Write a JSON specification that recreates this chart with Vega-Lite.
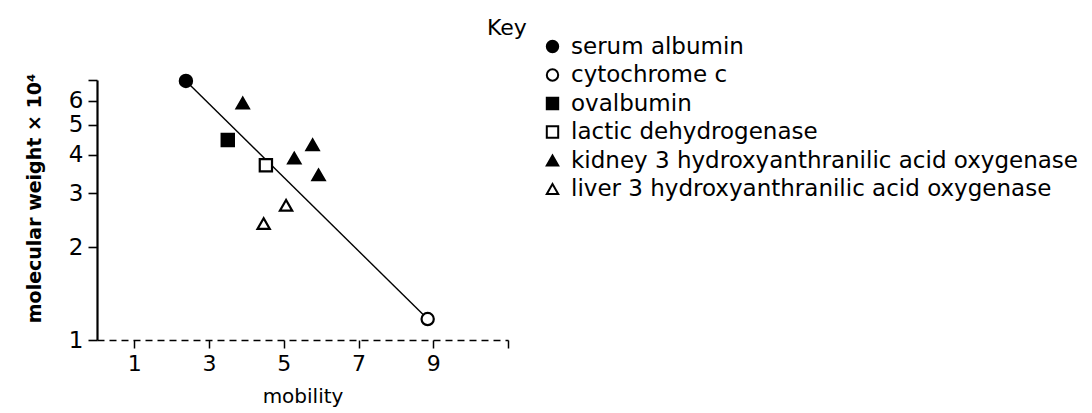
{
  "$schema": "https://vega.github.io/schema/vega-lite/v6.json",
  "autosize": "none",
  "width": 411,
  "height": 260,
  "padding": {"left": 97, "top": 80, "right": 584, "bottom": 73},
  "background": "white",
  "config": {
    "view": {"stroke": null},
    "axis": {"grid": false, "domainColor": "black", "tickColor": "black", "labelColor": "black", "titleColor": "black", "labelFont": "DejaVu Sans", "titleFont": "DejaVu Sans"},
    "legend": {"labelFont": "DejaVu Sans", "titleFont": "DejaVu Sans", "labelColor": "black", "titleColor": "black"}
  },
  "datasets": {
    "proteins": [
      {"protein": "serum albumin", "mobility": 2.38, "mw": 6.95},
      {"protein": "cytochrome c", "mobility": 8.85, "mw": 1.17},
      {"protein": "ovalbumin", "mobility": 3.5, "mw": 4.47},
      {"protein": "lactic dehydrogenase", "mobility": 4.52, "mw": 3.7},
      {"protein": "kidney 3 hydroxyanthranilic acid oxygenase", "mobility": 3.9, "mw": 5.89},
      {"protein": "kidney 3 hydroxyanthranilic acid oxygenase", "mobility": 5.28, "mw": 3.9},
      {"protein": "kidney 3 hydroxyanthranilic acid oxygenase", "mobility": 5.77, "mw": 4.31},
      {"protein": "kidney 3 hydroxyanthranilic acid oxygenase", "mobility": 5.93, "mw": 3.44},
      {"protein": "liver 3 hydroxyanthranilic acid oxygenase", "mobility": 4.46, "mw": 2.39},
      {"protein": "liver 3 hydroxyanthranilic acid oxygenase", "mobility": 5.06, "mw": 2.74}
    ],
    "fit": [
      {"mobility": 2.38, "mw": 6.95},
      {"mobility": 8.85, "mw": 1.17}
    ]
  },
  "layer": [
    {
      "data": {"name": "fit"},
      "mark": {"type": "line", "color": "black", "strokeWidth": 1.4},
      "encoding": {
        "x": {"field": "mobility", "type": "quantitative"},
        "y": {"field": "mw", "type": "quantitative"}
      }
    },
    {
      "data": {"name": "proteins"},
      "mark": {"type": "point", "strokeWidth": 2.2, "size": 150, "opacity": 1},
      "encoding": {
        "x": {
          "field": "mobility", "type": "quantitative",
          "scale": {"domain": [0, 11], "nice": false, "zero": false},
          "axis": {
            "title": "mobility", "values": [1, 3, 5, 7, 9, 11],
            "labelExpr": "datum.value == 11 ? '' : datum.label",
            "labelFontSize": 22, "labelPadding": 5, "tickSize": 8, "tickWidth": 1.5, "domainDash": [7, 5], "domainWidth": 1.4,
            "titleFontSize": 20, "titleFontWeight": "normal", "titlePadding": 12
          }
        },
        "y": {
          "field": "mw", "type": "quantitative",
          "scale": {"type": "log", "domain": [1, 7], "nice": false},
          "axis": {
            "title": "molecular weight × 10⁴", "values": [1, 2, 3, 4, 5, 6, 7],
            "labelExpr": "datum.value == 7 ? '' : datum.value",
            "labelFontSize": 23, "labelPadding": 5, "tickSize": 9, "domainWidth": 2.2, "tickWidth": 1.6,
            "titleFontSize": 19, "titleFontWeight": "bold", "titlePadding": 24, "titleY": 118
          }
        },
        "shape": {
          "field": "protein", "type": "nominal",
          "scale": {
            "domain": ["serum albumin", "cytochrome c", "ovalbumin", "lactic dehydrogenase", "kidney 3 hydroxyanthranilic acid oxygenase", "liver 3 hydroxyanthranilic acid oxygenase"],
            "range": ["circle", "circle", "square", "square", "triangle-up", "triangle-up"]
          },
          "legend": {
            "title": "Key", "orient": "none", "legendX": 390, "legendY": -45,
            "titleOrient": "left", "titleAnchor": "start", "titleBaseline": "alphabetic",
            "titleFontSize": 22, "titleFontWeight": "normal", "titlePadding": 14,
            "labelFontSize": 23, "labelLimit": 700, "labelOffset": 7, "symbolSize": 130, "rowPadding": 4.5,
            "symbolStrokeWidth": 2
          }
        },
        "fill": {
          "field": "protein", "type": "nominal",
          "scale": {
            "domain": ["serum albumin", "cytochrome c", "ovalbumin", "lactic dehydrogenase", "kidney 3 hydroxyanthranilic acid oxygenase", "liver 3 hydroxyanthranilic acid oxygenase"],
            "range": ["black", "white", "black", "white", "black", "white"]
          },
          "legend": {"title": "Key"}
        },
        "stroke": {
          "field": "protein", "type": "nominal",
          "scale": {
            "domain": ["serum albumin", "cytochrome c", "ovalbumin", "lactic dehydrogenase", "kidney 3 hydroxyanthranilic acid oxygenase", "liver 3 hydroxyanthranilic acid oxygenase"],
            "range": ["black", "black", "black", "black", "black", "black"]
          },
          "legend": {"title": "Key"}
        }
      }
    }
  ]
}
